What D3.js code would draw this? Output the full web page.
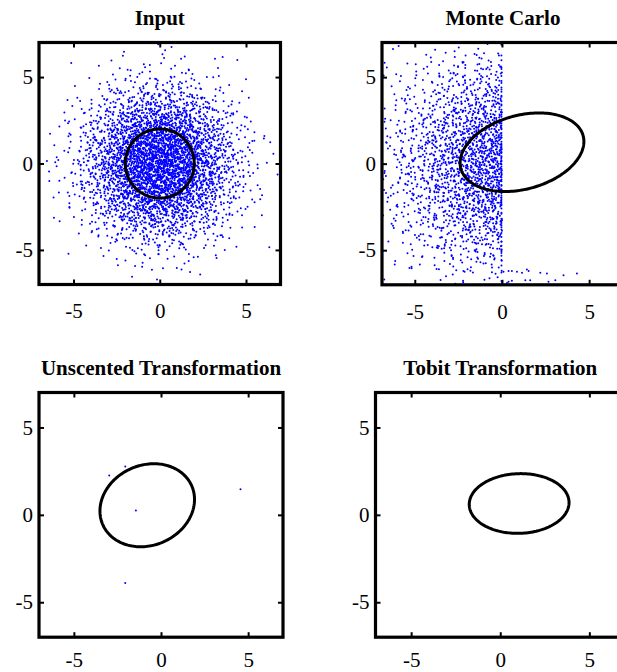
<!DOCTYPE html>
<html>
<head>
<meta charset="utf-8">
<script src="https://cdn.jsdelivr.net/npm/d3@7"></script>
<style>
  body { margin: 0; background: #fff; }
  svg { display: block; }
</style>
</head>
<body>
<script>
// ---------------- data ----------------
const panelTitles = ["Input", "Monte Carlo", "Unscented Transformation", "Tobit Transformation"];
const tickValues = [-5, 0, 5];
const tickLabels = ["-5", "0", "5"];

// Input sample: number of points in each unit cell.
// Rows run from y = 7..6 (top) down to y = -6..-7, columns from x = -7..-6 to 6..7.
const inputCounts = [
  [0, 0, 0, 0, 1, 1, 1, 2, 1, 1, 0, 0, 0, 0],
  [0, 0, 1, 1, 3, 4, 5, 5, 4, 2, 1, 1, 0, 0],
  [0, 1, 1, 4, 7, 11, 14, 14, 11, 7, 4, 2, 0, 0],
  [0, 1, 4, 10, 19, 30, 38, 37, 31, 20, 10, 3, 1, 0],
  [1, 3, 7, 19, 38, 59, 74, 73, 60, 38, 19, 7, 2, 1],
  [1, 4, 11, 30, 59, 92, 115, 116, 92, 59, 30, 11, 4, 1],
  [1, 5, 14, 38, 74, 115, 144, 143, 116, 74, 38, 14, 5, 1],
  [1, 5, 14, 37, 73, 116, 143, 145, 115, 74, 37, 14, 5, 1],
  [1, 4, 11, 30, 60, 92, 116, 115, 92, 59, 30, 11, 4, 1],
  [1, 2, 7, 19, 38, 59, 74, 74, 59, 38, 19, 7, 3, 0],
  [0, 1, 4, 10, 19, 30, 38, 38, 30, 19, 10, 4, 1, 0],
  [0, 0, 1, 4, 7, 11, 14, 14, 11, 7, 4, 1, 1, 0],
  [0, 0, 1, 1, 3, 4, 5, 5, 4, 3, 1, 0, 0, 0],
  [0, 0, 0, 0, 1, 1, 1, 1, 1, 1, 0, 0, 0, 0]
];

// Monte Carlo output: points per unit cell for x = -7..0 (7 columns), rows y = 7..-7.
const mcCounts = [
  [1, 1, 2, 3, 4, 5, 6],
  [2, 3, 5, 7, 10, 13, 14],
  [3, 5, 8, 11, 16, 20, 22],
  [4, 7, 11, 17, 23, 29, 33],
  [6, 10, 16, 24, 33, 41, 46],
  [7, 13, 20, 30, 41, 51, 57],
  [8, 14, 23, 34, 47, 59, 65],
  [8, 14, 22, 33, 46, 57, 64],
  [7, 12, 20, 29, 40, 50, 56],
  [6, 10, 16, 24, 33, 41, 45],
  [4, 7, 12, 18, 24, 30, 34],
  [3, 5, 8, 12, 17, 21, 23],
  [2, 3, 5, 7, 10, 13, 14],
  [1, 1, 2, 3, 4, 4, 5]
];
// Monte Carlo points piled up on x = 0, per unit row of y (y = 7..-7)
const mcEdgeCounts = [2, 4, 5, 6, 7, 8, 8, 8, 8, 7, 6, 5, 4, 2];
// Monte Carlo points lying along the lower edge with x > 0
const mcLowPoints = [
  [0.09, -6.25], [0.38, -6.2], [0.57, -6.2], [0.86, -6.25], [1.15, -6.31],
  [1.43, -6.12], [1.53, -6.2], [2.2, -6.31], [2.58, -6.35], [3.53, -6.45],
  [4.3, -6.35], [1.34, -6.73], [1.62, -6.73], [2.67, -6.83], [3.06, -6.73],
  [0.38, -6.83], [0.57, -6.77], [0.0, -6.9], [0.29, -6.9]
];

// Sigma points of the unscented transformation
const sigmaX = [-2.05, -2.97, -1.44, 4.56, -2.05];
const sigmaY = [2.76, 2.25, 0.25, 1.47, -3.9];

// Covariance ellipses: centre and [sxx, sxy, syy] for each panel
const ellipseCenters = [[0, 0], [1.15, 0.66], [-0.79, 0.55], [1.06, 0.65]];
const ellipseCovs = [[4, 0, 4], [12.6, 2.2, 5.15], [7.36, 0.9, 5.64], [7.84, 0.15, 2.92]];

// ---------------- layout ----------------
const W = 617, H = 672;
const panels = [
  { x0: 39,  x1: 280.5, y0: 42.5,  y1: 284.5, xDomain: [-7, 7],    labelPad: 19 },
  { x0: 382, x1: 624,   y0: 42.5,  y1: 284.8, xDomain: [-6.88, 7], labelPad: 19 },
  { x0: 39,  x1: 283,   y0: 392.5, y1: 637.2, xDomain: [-7, 7],    labelPad: 15 },
  { x0: 375.5, x1: 625, y0: 392.5, y1: 637.2, xDomain: [-7, 7],    labelPad: 15 }
];
const yDomain = [-7, 7];
const font = "'Liberation Serif', 'Times New Roman', serif";
const blue = "#0000ff";

const svg = d3.select("body").append("svg")
  .attr("width", W).attr("height", H)
  .attr("viewBox", `0 0 ${W} ${H}`);

// radical inverse (Halton) used to lay points out evenly inside a footprint
function halton(i, b) {
  let f = 1, r = 0;
  while (i > 0) { f /= b; r += f * (i % b); i = Math.floor(i / b); }
  return r;
}

// Spread each cell's points around the cell centre with a tent-shaped
// footprint one cell wide on each side, so neighbouring cells blend smoothly.
function cellPoints(counts, xStart, yTop, xMaxReflect, seed) {
  const pts = [];
  let i = seed;
  counts.forEach((row, r) => {
    row.forEach((n, c) => {
      for (let k = 0; k < n; k++, i++) {
        const j = i * 409;
        const dx = halton(j, 2) + halton(j, 3) - 1;
        const dy = halton(j, 5) + halton(j, 7) - 1;
        let px = xStart + c + 0.5 + dx;
        const py = yTop - r - 0.5 - dy;
        if (xMaxReflect !== undefined && px > xMaxReflect) px = 2 * xMaxReflect - px;
        pts.push([px, py]);
      }
    });
  });
  return pts;
}

const scatterData = [
  cellPoints(inputCounts, -7, 7, undefined, 17),
  cellPoints(mcCounts, -7, 7, 0, 5003)
    .concat(mcEdgeCounts.flatMap((n, r) =>
      d3.range(n).map(k => [-0.03, 7 - r - halton(r * 11 + k + 3, 2)])))
    .concat(mcLowPoints),
  sigmaX.map((x, i) => [x, sigmaY[i]]),
  []
];

panels.forEach((p, pi) => {
  const x = d3.scaleLinear().domain(p.xDomain).range([p.x0, p.x1]);
  const y = d3.scaleLinear().domain(yDomain).range([p.y1, p.y0]);
  const g = svg.append("g");

  const clipId = "clip" + pi;
  svg.append("clipPath").attr("id", clipId)
    .append("rect")
    .attr("x", p.x0).attr("y", p.y0)
    .attr("width", p.x1 - p.x0).attr("height", p.y1 - p.y0);

  // scatter
  g.append("g").attr("clip-path", `url(#${clipId})`)
    .selectAll("circle").data(scatterData[pi]).join("circle")
    .attr("cx", d => x(d[0])).attr("cy", d => y(d[1]))
    .attr("r", 1.0).attr("fill", blue);

  // covariance ellipse
  const [cx, cy] = ellipseCenters[pi];
  const [sxx, sxy, syy] = ellipseCovs[pi];
  const l11 = Math.sqrt(sxx), l21 = sxy / l11, l22 = Math.sqrt(syy - l21 * l21);
  const ts = d3.range(0, 2 * Math.PI, Math.PI / 90);
  const line = d3.line()
    .x(t => x(cx + l11 * Math.cos(t)))
    .y(t => y(cy + l21 * Math.cos(t) + l22 * Math.sin(t)))
    .curve(d3.curveLinearClosed);
  g.append("path").attr("d", line(ts))
    .attr("fill", "none").attr("stroke", "#000").attr("stroke-width", 3);

  // axes with inward ticks on all four sides
  const fmt = d => tickLabels[tickValues.indexOf(d)];
  const styleAxis = sel => {
    sel.select(".domain").remove();
    sel.selectAll(".tick line").attr("stroke", "#000").attr("stroke-width", 2);
    sel.selectAll("text").attr("font-family", font).attr("font-size", 21).attr("fill", "#000");
  };
  g.append("g").attr("transform", `translate(0,${p.y1})`)
    .call(d3.axisBottom(x).tickValues(tickValues).tickFormat(fmt).tickSize(-5).tickPadding(p.labelPad))
    .call(styleAxis);
  g.append("g").attr("transform", `translate(0,${p.y0})`)
    .call(d3.axisTop(x).tickValues(tickValues).tickFormat("").tickSize(-5))
    .call(styleAxis);
  g.append("g").attr("transform", `translate(${p.x0},0)`)
    .call(d3.axisLeft(y).tickValues(tickValues).tickFormat(fmt).tickSize(-5).tickPadding(6))
    .call(styleAxis);
  g.append("g").attr("transform", `translate(${p.x1},0)`)
    .call(d3.axisRight(y).tickValues(tickValues).tickFormat("").tickSize(-5))
    .call(styleAxis);

  // box
  g.append("rect")
    .attr("x", p.x0).attr("y", p.y0)
    .attr("width", p.x1 - p.x0).attr("height", p.y1 - p.y0)
    .attr("fill", "none").attr("stroke", "#000").attr("stroke-width", 3.2);

  // title
  g.append("text")
    .attr("x", (p.x0 + p.x1) / 2).attr("y", p.y0 - 18)
    .attr("text-anchor", "middle")
    .attr("font-family", font).attr("font-weight", "bold").attr("font-size", 21)
    .text(panelTitles[pi]);
});
</script>
</body>
</html>
